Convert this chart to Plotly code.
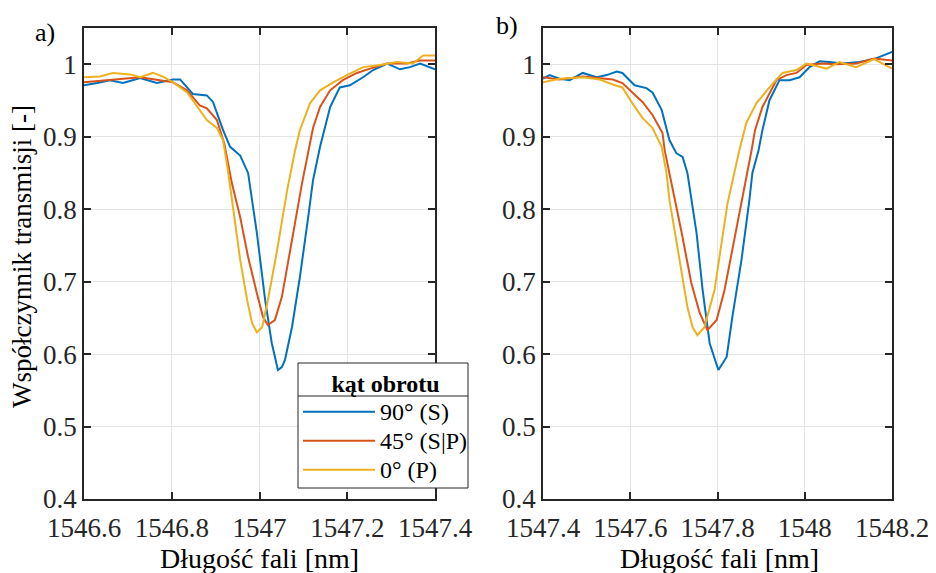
import plotly.graph_objects as go
from plotly.subplots import make_subplots

# panel a) - wavelength [nm] / transmission [-]
wl_a_s = [1546.600, 1546.630, 1546.659, 1546.689, 1546.728, 1546.766, 1546.803, 1546.819,
          1546.835, 1546.848, 1546.880, 1546.894, 1546.917, 1546.933, 1546.956, 1546.974,
          1546.994, 1547.013, 1547.028, 1547.042, 1547.051, 1547.058, 1547.074, 1547.092,
          1547.111, 1547.122, 1547.138, 1547.161, 1547.183, 1547.206, 1547.236, 1547.259,
          1547.291, 1547.320, 1547.343, 1547.366, 1547.400]
tr_a_s = [0.971, 0.974, 0.978, 0.974, 0.981, 0.974, 0.979, 0.979,
          0.968, 0.959, 0.957, 0.948, 0.909, 0.886, 0.874, 0.850,
          0.767, 0.674, 0.615, 0.578, 0.582, 0.592, 0.637, 0.706,
          0.789, 0.840, 0.886, 0.941, 0.968, 0.971, 0.982, 0.992,
          1.001, 0.993, 0.996, 1.001, 0.993]

wl_a_sp = [1546.600, 1546.666, 1546.728, 1546.773, 1546.803, 1546.835, 1546.864, 1546.880,
           1546.903, 1546.920, 1546.937, 1546.956, 1546.974, 1546.994, 1547.008, 1547.019,
           1547.035, 1547.051, 1547.065, 1547.081, 1547.097, 1547.111, 1547.122, 1547.138,
           1547.161, 1547.190, 1547.222, 1547.252, 1547.291, 1547.336, 1547.366, 1547.400]
tr_a_sp = [0.975, 0.979, 0.982, 0.978, 0.975, 0.964, 0.943, 0.939,
           0.923, 0.890, 0.836, 0.789, 0.734, 0.684, 0.651, 0.640,
           0.647, 0.679, 0.725, 0.781, 0.836, 0.881, 0.912, 0.941,
           0.964, 0.978, 0.988, 0.994, 1.001, 1.001, 1.005, 1.005]

wl_a_p = [1546.600, 1546.636, 1546.666, 1546.705, 1546.728, 1546.757, 1546.780, 1546.803,
          1546.835, 1546.858, 1546.880, 1546.903, 1546.917, 1546.928, 1546.937, 1546.956,
          1546.972, 1546.983, 1546.994, 1547.006, 1547.019, 1547.040, 1547.063, 1547.081,
          1547.092, 1547.115, 1547.138, 1547.168, 1547.199, 1547.236, 1547.275, 1547.313,
          1547.350, 1547.373, 1547.400]
tr_a_p = [0.982, 0.983, 0.988, 0.986, 0.982, 0.988, 0.983, 0.975,
          0.961, 0.941, 0.923, 0.912, 0.895, 0.854, 0.812, 0.730,
          0.674, 0.643, 0.630, 0.637, 0.674, 0.743, 0.826, 0.881,
          0.909, 0.946, 0.964, 0.975, 0.985, 0.996, 0.999, 1.003,
          1.001, 1.012, 1.012]

# panel b)
wl_b_s = [1547.400, 1547.415, 1547.438, 1547.461, 1547.491, 1547.523, 1547.546, 1547.569,
          1547.582, 1547.610, 1547.637, 1547.651, 1547.672, 1547.690, 1547.706, 1547.720,
          1547.731, 1547.752, 1547.766, 1547.782, 1547.802, 1547.821, 1547.834, 1547.855,
          1547.873, 1547.880, 1547.894, 1547.903, 1547.919, 1547.942, 1547.965, 1547.988,
          1548.011, 1548.034, 1548.056, 1548.086, 1548.125, 1548.159, 1548.200]
tr_b_s = [0.980, 0.985, 0.980, 0.978, 0.988, 0.982, 0.985, 0.990,
          0.988, 0.971, 0.967, 0.961, 0.937, 0.895, 0.877, 0.872,
          0.850, 0.767, 0.688, 0.615, 0.578, 0.596, 0.651, 0.730,
          0.812, 0.850, 0.881, 0.909, 0.950, 0.978, 0.978, 0.982,
          0.996, 1.004, 1.003, 1.001, 1.003, 1.007, 1.017]

wl_b_sp = [1547.400, 1547.438, 1547.491, 1547.530, 1547.560, 1547.582, 1547.605, 1547.628,
           1547.651, 1547.674, 1547.679, 1547.695, 1547.718, 1547.740, 1547.759, 1547.777,
           1547.798, 1547.816, 1547.834, 1547.857, 1547.878, 1547.886, 1547.903, 1547.935,
           1547.958, 1547.981, 1548.004, 1548.040, 1548.072, 1548.118, 1548.159, 1548.200]
tr_b_sp = [0.982, 0.979, 0.983, 0.981, 0.979, 0.974, 0.961, 0.948,
           0.930, 0.905, 0.881, 0.836, 0.767, 0.698, 0.657, 0.633,
           0.647, 0.688, 0.743, 0.812, 0.881, 0.909, 0.941, 0.978,
           0.985, 0.988, 0.999, 1.001, 1.000, 1.001, 1.008, 1.005]

wl_b_p = [1547.400, 1547.438, 1547.491, 1547.530, 1547.560, 1547.582, 1547.605, 1547.628,
          1547.651, 1547.672, 1547.683, 1547.690, 1547.713, 1547.731, 1547.743, 1547.754,
          1547.770, 1547.793, 1547.823, 1547.850, 1547.866, 1547.889, 1547.919, 1547.949,
          1547.981, 1548.004, 1548.050, 1548.079, 1548.118, 1548.159, 1548.200]
tr_b_p = [0.975, 0.980, 0.982, 0.979, 0.972, 0.968, 0.946, 0.926,
          0.912, 0.886, 0.850, 0.812, 0.730, 0.665, 0.637, 0.626,
          0.637, 0.688, 0.808, 0.881, 0.919, 0.946, 0.968, 0.988,
          0.992, 1.001, 0.994, 1.003, 0.996, 1.007, 0.994]

names = ["90° (S)", "45° (S|P)", "0° (P)"]
colors = ["#0072BD", "#D95319", "#EDB120"]

xt_a = [1546.6, 1546.8, 1547.0, 1547.2, 1547.4]
xt_a_txt = ["1546.6", "1546.8", "1547", "1547.2", "1547.4"]
xt_b = [1547.4, 1547.6, 1547.8, 1548.0, 1548.2]
xt_b_txt = ["1547.4", "1547.6", "1547.8", "1548", "1548.2"]
yt = [0.4, 0.5, 0.6, 0.7, 0.8, 0.9, 1.0]
yt_txt = ["0.4", "0.5", "0.6", "0.7", "0.8", "0.9", "1"]

FONT = "Times New Roman, Liberation Serif, serif"
W, H = 936, 573
OFF = 8  # page body margin shifts the figure by 8px
top, bot = 28 - OFF, 499 - OFF


def px(p):
    return (p - OFF) / W


def py(p):
    return (bot - (p - OFF)) / (bot - top)


fig = make_subplots(rows=1, cols=2)

series_a = [(wl_a_s, tr_a_s), (wl_a_sp, tr_a_sp), (wl_a_p, tr_a_p)]
series_b = [(wl_b_s, tr_b_s), (wl_b_sp, tr_b_sp), (wl_b_p, tr_b_p)]
for i, (x, y) in enumerate(series_a):
    # bigger text than the legend font, so the rows stay tight like in the original
    fig.add_trace(go.Scatter(x=x, y=y, mode="lines",
                             name='<span style="font-size:24px">%s</span>' % names[i],
                             line=dict(color=colors[i], width=2)), row=1, col=1)
for i, (x, y) in enumerate(series_b):
    fig.add_trace(go.Scatter(x=x, y=y, mode="lines", name=names[i], showlegend=False,
                             line=dict(color=colors[i], width=2)), row=1, col=2)

ax = dict(showline=True, mirror="ticks", linecolor="#262626", linewidth=1.5,
          ticks="inside", ticklen=7, tickwidth=1.5, tickcolor="#262626",
          showgrid=True, gridcolor="#e4e4e4", gridwidth=1, zeroline=False,
          automargin=False,
          tickfont=dict(family=FONT, size=27, color="#262626"))

fig.update_xaxes(ax)
fig.update_yaxes(ax)
fig.update_xaxes(ticklabelstandoff=4)
fig.update_xaxes(domain=[px(84), px(435)], range=[1546.6, 1547.4],
                 tickvals=xt_a, ticktext=xt_a_txt, row=1, col=1)
fig.update_xaxes(domain=[px(543), px(892)], range=[1547.4, 1548.2],
                 tickvals=xt_b, ticktext=xt_b_txt, row=1, col=2)
fig.update_yaxes(range=[0.4, 1.05], tickvals=yt, ticktext=yt_txt)

ann = [
    dict(text="Współczynnik transmisji [-]", x=px(22), y=py(257), textangle=-90, font_size=27),
    dict(text="Długość fali [nm]", x=px(259.5), y=py(558), font_size=28),
    dict(text="Długość fali [nm]", x=px(719), y=py(558), font_size=28),
    dict(text="a)", x=px(45), y=py(32), font_size=26),
    dict(text="b)", x=px(507), y=py(25), font_size=26),
]
for a in ann:
    fig.add_annotation(xref="paper", yref="paper", showarrow=False,
                       xanchor="center", yanchor="middle",
                       font=dict(family=FONT, color="#000000", size=a.pop("font_size")), **a)

# legend frame and the line under its title (legend itself is transparent on top)
fig.add_shape(type="rect", xref="paper", yref="paper", layer="above",
              x0=px(298), x1=px(468), y0=py(488), y1=py(363),
              fillcolor="white", line=dict(color="#262626", width=1))
fig.add_shape(type="line", xref="paper", yref="paper", layer="above",
              x0=px(298), x1=px(468), y0=py(396), y1=py(396),
              line=dict(color="#262626", width=1))

fig.update_layout(
    width=W, height=H,
    margin=dict(l=0, r=0, t=top, b=H - bot),
    paper_bgcolor="white", plot_bgcolor="white",
    font=dict(family=FONT, color="#000000"),
    legend=dict(title=dict(text="<b>kąt obrotu</b>", side="top center",
                           font=dict(family=FONT, size=24, color="#000000")),
                font=dict(family=FONT, size=20, color="#000000"),
                x=px(298), y=py(361), xanchor="left", yanchor="top",
                borderwidth=0, bgcolor="rgba(0,0,0,0)",
                itemwidth=72, tracegroupgap=0),
)

fig.write_html("out.html")
